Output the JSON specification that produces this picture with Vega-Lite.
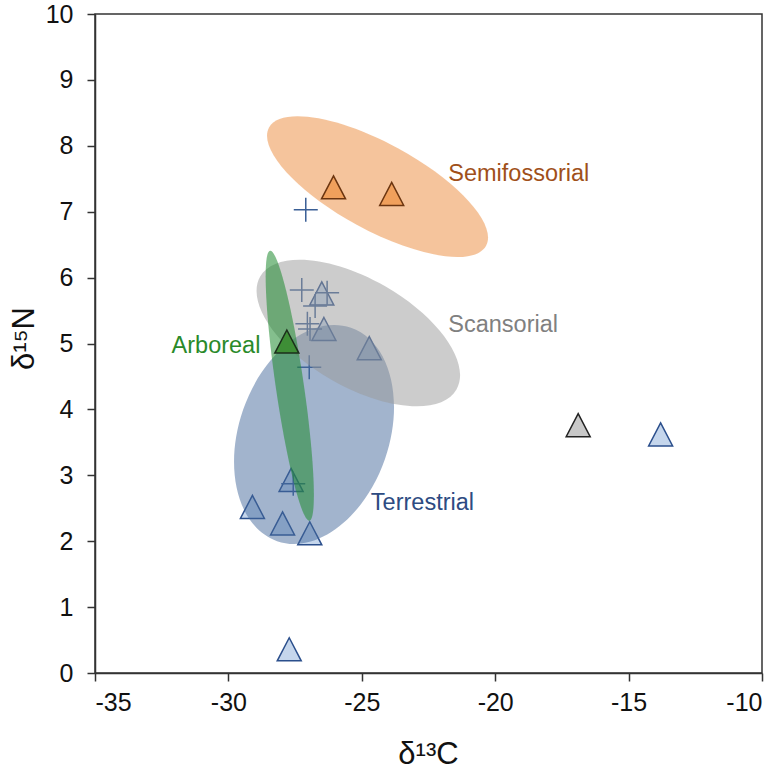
{
  "$schema": "https://vega.github.io/schema/vega-lite/v6.json",
  "width": 667,
  "height": 659,
  "autosize": {"type": "none"},
  "padding": {"left": 95, "top": 14, "right": 22, "bottom": 96},
  "background": "white",
  "config": {
    "font": "Liberation Sans",
    "view": {"stroke": "#333333", "strokeWidth": 1.5},
    "axis": {
      "grid": false,
      "domainColor": "#333333",
      "domainWidth": 1.5,
      "tickColor": "#333333",
      "tickWidth": 1.5,
      "tickSize": 8,
      "labelFont": "Liberation Sans",
      "labelFontSize": 25,
      "labelColor": "#111111",
      "labelExpr": "replace(datum.label, '−', '-')",
      "titleFont": "Liberation Sans",
      "titleFontSize": 31,
      "titleFontWeight": "normal",
      "titleColor": "#111111"
    }
  },
  "datasets": {
    "points": [
      {"x": -26.50, "y": 5.76, "type": "terrestrial"},
      {"x": -26.42, "y": 5.22, "type": "terrestrial"},
      {"x": -24.72, "y": 4.93, "type": "terrestrial"},
      {"x": -27.65, "y": 2.93, "type": "terrestrial"},
      {"x": -29.10, "y": 2.52, "type": "terrestrial"},
      {"x": -27.97, "y": 2.27, "type": "terrestrial"},
      {"x": -26.95, "y": 2.12, "type": "terrestrial"},
      {"x": -27.72, "y": 0.36, "type": "terrestrial"},
      {"x": -13.80, "y": 3.62, "type": "terrestrial"},
      {"x": -27.10, "y": 7.03, "type": "plus"},
      {"x": -27.25, "y": 5.81, "type": "plus"},
      {"x": -26.30, "y": 5.77, "type": "plus"},
      {"x": -26.75, "y": 5.57, "type": "plus"},
      {"x": -27.04, "y": 5.30, "type": "plus"},
      {"x": -26.94, "y": 5.22, "type": "plus"},
      {"x": -26.97, "y": 4.64, "type": "plus"},
      {"x": -27.57, "y": 2.87, "type": "plus"},
      {"x": -26.06, "y": 7.37, "type": "semifossorial"},
      {"x": -23.88, "y": 7.27, "type": "semifossorial"},
      {"x": -27.81, "y": 5.03, "type": "arboreal"},
      {"x": -16.89, "y": 3.76, "type": "grey"}
    ],
    "ellipses": [
      {"group": "Terrestrial", "x": -26.79, "y": 3.62},
      {"group": "Scansorial", "x": -25.13, "y": 5.16},
      {"group": "Arboreal", "x": -27.70, "y": 4.36},
      {"group": "Semifossorial", "x": -24.41, "y": 7.38}
    ],
    "labels": [
      {"label": "Semifossorial", "x": -21.76, "y": 7.46},
      {"label": "Scansorial", "x": -21.76, "y": 5.18},
      {"label": "Terrestrial", "x": -24.66, "y": 2.47},
      {"label": "Arboreal", "x": -32.13, "y": 4.86}
    ]
  },
  "encoding": {
    "x": {
      "field": "x",
      "type": "quantitative",
      "scale": {"domain": [-35, -10], "nice": false, "zero": false},
      "axis": {
        "values": [-35, -30, -25, -20, -15, -10],
        "title": "δ¹³C",
        "labelPadding": 9,
        "titleBaseline": "alphabetic",
        "titleX": 333,
        "titleY": 90
      }
    },
    "y": {
      "field": "y",
      "type": "quantitative",
      "scale": {"domain": [0, 10], "nice": false, "zero": false},
      "axis": {
        "values": [0, 1, 2, 3, 4, 5, 6, 7, 8, 9, 10],
        "title": "δ¹⁵N",
        "labelPadding": 14,
        "titleBaseline": "alphabetic",
        "titleX": -62,
        "titleY": 324
      }
    }
  },
  "layer": [
    {
      "data": {"name": "points"},
      "transform": [{"filter": "datum.type === 'terrestrial'"}],
      "mark": {"type": "point", "shape": "M0,-0.96L1,0.96L-1,0.96Z", "size": 576, "filled": true, "fill": "#C5D6EC", "stroke": "#2B4F8C", "strokeWidth": 1.5, "opacity": 1}
    },
    {
      "data": {"name": "points"},
      "transform": [{"filter": "datum.type === 'plus'"}],
      "mark": {"type": "point", "shape": "M-1,0L1,0M0,-1L0,1", "size": 576, "filled": false, "stroke": "#3A5F96", "strokeWidth": 1.5, "opacity": 1}
    },
    {
      "data": {"name": "ellipses"},
      "transform": [{"filter": "datum.group === 'Terrestrial'"}],
      "mark": {"type": "point", "shape": "M1,0C1,0.367 0.552,0.665 0,0.665C-0.552,0.665 -1,0.367 -1,0C-1,-0.367 -0.552,-0.665 0,-0.665C0.552,-0.665 1,-0.367 1,0Z", "size": 50986, "angle": -70.9, "filled": true, "fill": "#46699B", "strokeWidth": 0, "opacity": 0.5}
    },
    {
      "data": {"name": "ellipses"},
      "transform": [{"filter": "datum.group === 'Scansorial'"}],
      "mark": {"type": "point", "shape": "M1,0C1,0.263 0.552,0.476 0,0.476C-0.552,0.476 -1,0.263 -1,0C-1,-0.263 -0.552,-0.476 0,-0.476C0.552,-0.476 1,-0.263 1,0Z", "size": 51257, "angle": 29.9, "filled": true, "fill": "#999999", "strokeWidth": 0, "opacity": 0.5}
    },
    {
      "data": {"name": "ellipses"},
      "transform": [{"filter": "datum.group === 'Arboreal'"}],
      "mark": {"type": "point", "shape": "M1,0C1,0.057 0.552,0.103 0,0.103C-0.552,0.103 -1,0.057 -1,0C-1,-0.057 -0.552,-0.103 0,-0.103C0.552,-0.103 1,-0.057 1,0Z", "size": 74420, "angle": 81.7, "filled": true, "fill": "#1F8B2F", "strokeWidth": 0, "opacity": 0.55}
    },
    {
      "data": {"name": "ellipses"},
      "transform": [{"filter": "datum.group === 'Semifossorial'"}],
      "mark": {"type": "point", "shape": "M1,0C1,0.194 0.552,0.352 0,0.352C-0.552,0.352 -1,0.194 -1,0C-1,-0.194 -0.552,-0.352 0,-0.352C0.552,-0.352 1,-0.194 1,0Z", "size": 61108, "angle": 28.6, "filled": true, "fill": "#EB8A3A", "strokeWidth": 0, "opacity": 0.5}
    },
    {
      "data": {"name": "points"},
      "transform": [{"filter": "datum.type === 'semifossorial'"}],
      "mark": {"type": "point", "shape": "M0,-0.96L1,0.96L-1,0.96Z", "size": 576, "filled": true, "fill": "#F0A05C", "stroke": "#6B3510", "strokeWidth": 1.5, "opacity": 1}
    },
    {
      "data": {"name": "points"},
      "transform": [{"filter": "datum.type === 'arboreal'"}],
      "mark": {"type": "point", "shape": "M0,-0.96L1,0.96L-1,0.96Z", "size": 576, "filled": true, "fill": "#3E8E36", "stroke": "#1B2E1B", "strokeWidth": 1.5, "opacity": 1}
    },
    {
      "data": {"name": "points"},
      "transform": [{"filter": "datum.type === 'grey'"}],
      "mark": {"type": "point", "shape": "M0,-0.96L1,0.96L-1,0.96Z", "size": 576, "filled": true, "fill": "#C8C8C8", "stroke": "#222222", "strokeWidth": 1.5, "opacity": 1}
    },
    {
      "data": {"name": "labels"},
      "mark": {"type": "text", "align": "left", "baseline": "alphabetic", "fontSize": 23.5, "font": "Liberation Sans"},
      "encoding": {
        "text": {"field": "label", "type": "nominal"},
        "color": {
          "field": "label",
          "type": "nominal",
          "scale": {"domain": ["Semifossorial", "Scansorial", "Terrestrial", "Arboreal"], "range": ["#A0501A", "#808080", "#2D4B82", "#2A8A2A"]},
          "legend": null
        }
      }
    }
  ]
}
